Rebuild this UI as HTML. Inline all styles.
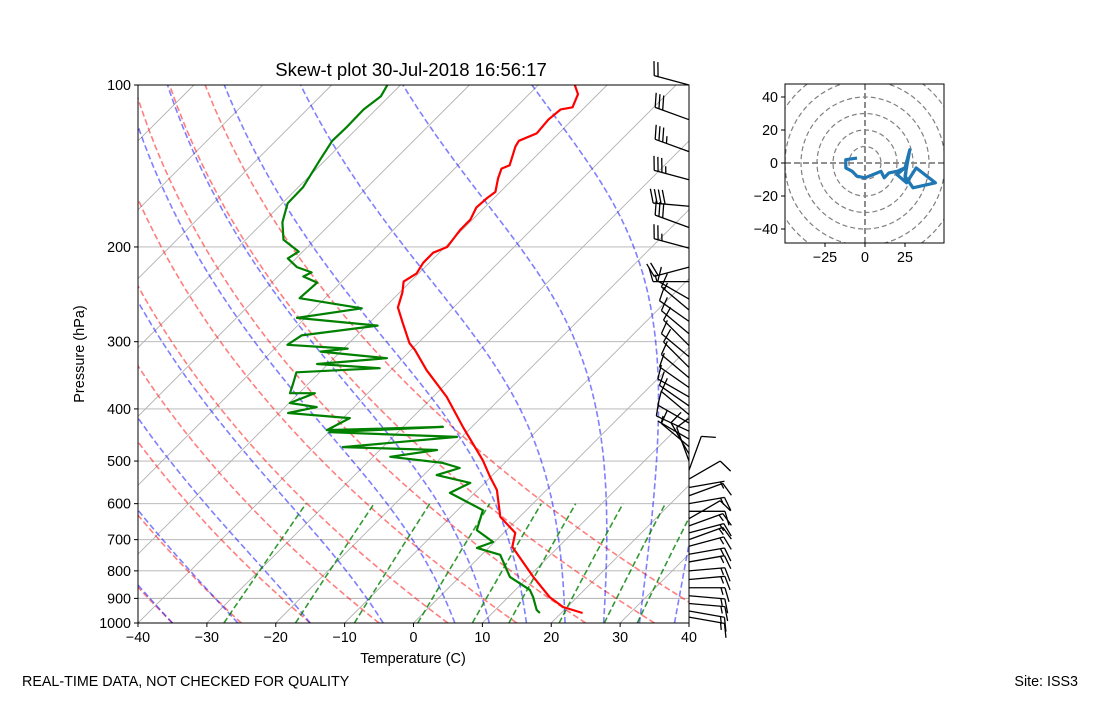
<!DOCTYPE html>
<html><head><meta charset="utf-8"><style>
body{margin:0;background:#fff;}
svg text{font-family:"Liberation Sans","DejaVu Sans",sans-serif;}
</style></head><body>
<svg id="fig" width="1100" height="700" xmlns="http://www.w3.org/2000/svg">
<defs>
<clipPath id="clipMain"><rect x="138" y="85" width="551" height="538"/></clipPath>
<clipPath id="clipHodo"><rect x="785" y="84" width="159" height="159"/></clipPath>
</defs>
<rect width="1100" height="700" fill="#fff"/>
<g id="main"></g>
<g id="barbs"></g>
<g id="hodo"></g>
<text x="411" y="76" font-size="18.5" text-anchor="middle">Skew-t plot 30-Jul-2018 16:56:17</text>
<text x="0" y="0" font-size="14.5" text-anchor="middle" transform="translate(84,354) rotate(-90)">Pressure (hPa)</text>
<text x="413" y="663" font-size="14.5" text-anchor="middle">Temperature (C)</text>
<text x="22" y="686" font-size="14.3">REAL-TIME DATA, NOT CHECKED FOR QUALITY</text>
<text x="1078" y="686" font-size="14.3" text-anchor="end">Site: ISS3</text>
</svg>
<script>
// ---- data ----
const tempP = [958,934,895,821,732,722,680,635,566,535,498,432,380,339,311,302,277,259,243,232,224,214,205,200,186,178,169,162,158,149,143,141,130,127,123,116,111,110,104,100];
const tempT = [23.1,19.4,16.0,10.7,4.1,3.3,1.7,-2.8,-7.2,-10.1,-13.6,-21.3,-28.0,-34.8,-39.4,-41.2,-45.1,-48.1,-49.6,-51.0,-50.3,-50.9,-50.9,-49.7,-50.3,-50.3,-51.2,-51.0,-50.7,-52.3,-53.2,-52.5,-54.4,-54.7,-53.2,-53.5,-53.2,-51.8,-52.9,-54.7];
const dewP = [958,946,895,868,821,747,725,707,672,617,573,549,531,515,504,491,477,471,451,442,432,438,416,407,397,390,374,374,358,342,336,330,322,313,309,304,292,280,271,260,249,233,227,223,218,210,204,194,180,166,155,138,127,120,111,105,100];
const dewT = [16.9,16.0,13.6,12.1,7.3,2.7,-1.7,-0.2,-4.3,-6.3,-13.6,-12.1,-18.1,-15.8,-19.0,-27.5,-21.7,-35.8,-20.7,-39.9,-24.2,-40.6,-39.0,-48.7,-45.4,-49.9,-47.7,-51.3,-52.3,-53.4,-41.9,-51.6,-42.3,-52.9,-49.4,-58.7,-58.0,-48.4,-61.2,-53.2,-63.7,-63.4,-66.3,-65.7,-68.6,-71.2,-70.6,-74.5,-77.2,-79.2,-79.3,-80.8,-81.8,-81.7,-81.8,-81.2,-81.9];
const barbP = [100,116,133,150,168,184,201,218,232,250,262,275,290,305,320,335,350,365,380,395,410,425,440,455,470,485,500,520,540,560,580,600,620,640,660,680,700,720,745,770,800,830,860,890,920,950,975];
const barbDir = [285,290,290,285,275,290,285,255,270,300,310,305,310,315,310,315,310,305,300,305,310,300,295,300,310,330,340,20,60,80,70,80,90,60,70,75,70,75,80,80,85,85,90,95,95,100,100];
const barbSpd = [20,30,35,35,40,30,25,20,15,10,15,10,10,10,10,10,10,10,10,10,10,10,10,5,10,10,10,10,10,5,10,15,10,10,15,15,15,15,15,15,15,15,15,15,15,15,15];
const hodoU = [-5,-12,-12,-8,-5,0,5,10,12,15,20,25,28,25,30,44,32,26,20,26,25];
const hodoV = [3,2,-3,-5,-8,-9,-7,-5,-9,-6,-5,-3,8,-8,-15,-12,-3,-12,-7,-2,-10];
const pTicks = [100,200,300,400,500,600,700,800,900,1000];
const tTicks = [-40,-30,-20,-10,0,10,20,30,40];
const dryTheta = [-95,-85,-75,-65,-55,-45,-35,-25,-15,-5,5,15,25,35,45];
const moistT0 = [-95,-85,-75,-65,-55,-45,-35,-25.5,-15,-4.4,6,11,16.4,22,27.6,32.8,37.9];
const mixW = [0.0004,0.001,0.002,0.004,0.007,0.01,0.016,0.024,0.032];
const hodoXTicks = [-25,0,25];
const hodoYTicks = [40,20,0,-20,-40];

// ---- axes ----
const NS='http://www.w3.org/2000/svg';
const X0=138,X1=689,Y0=85,Y1=623;
const pxPerC=(X1-X0)/80;
function yP(p){return Y1-(Y1-Y0)*Math.log10(1000/p);}
function xT(T,p){return X0+(T+40)*pxPerC+(Y1-yP(p));}
function mk(tag,attrs,parent){const e=document.createElementNS(NS,tag);for(const k in attrs)e.setAttribute(k,attrs[k]);parent.appendChild(e);return e;}
const main=document.getElementById('main');
const clipG=mk('g',{'clip-path':'url(#clipMain)'},main);

for(let T=-160;T<=40;T+=10){
  const l=mk('line',{x1:xT(T,1000),y1:Y1,x2:xT(T,100),y2:Y0,stroke:'#b0b0b0','stroke-width':0.9},clipG);
  
  
}
pTicks.forEach(p=>{
  const l=mk('line',{x1:X0,x2:X1,y1:yP(p),y2:yP(p),stroke:'#b0b0b0','stroke-width':0.9},clipG);
  
  
});
function pathFrom(pts){return pts.map((q,i)=>(i?'L':'M')+q[0].toFixed(1)+' '+q[1].toFixed(1)).join('');}
dryTheta.forEach(th=>{
  const pts=[];
  for(let p=1000;p>=100;p-=10){const T=(th+273.15)*Math.pow(p/1000,0.2857)-273.15;pts.push([xT(T,p),yP(p)]);}
  const e=mk('path',{d:pathFrom(pts),fill:'none',stroke:'rgba(255,0,0,0.5)','stroke-width':1.6,'stroke-dasharray':'6,3'},clipG);
  
  
});
function es(Tc){return 6.112*Math.exp(17.67*Tc/(Tc+243.5));}
moistT0.forEach(t0=>{
  const pts=[];let T=t0+273.15;const Rd=287.04,Cp=1005.7,Lv=2.501e6,eps=0.622;
  for(let p=1000;p>=100;p-=2){
    pts.push([xT(T-273.15,p),yP(p)]);
    const rs=eps*es(T-273.15)/(p-es(T-273.15));
    const dTdp=(Rd*T+Lv*rs)/(p*(Cp+Lv*Lv*rs*eps/(Rd*T*T)));
    T-=dTdp*2;
  }
  const e=mk('path',{d:pathFrom(pts),fill:'none',stroke:'rgba(0,0,255,0.5)','stroke-width':1.6,'stroke-dasharray':'6,3'},clipG);
  
  
});
mixW.forEach(w=>{
  const pts=[];
  for(let p=1000;p>=600;p-=20){const e=p*w/(0.622+w);const a=Math.log(e/6.112);const Td=243.5*a/(17.67-a);pts.push([xT(Td,p),yP(p)]);}
  const e=mk('path',{d:pathFrom(pts),fill:'none',stroke:'rgba(0,128,0,0.8)','stroke-width':1.6,'stroke-dasharray':'6,3'},clipG);
  
  
});
const tl=mk('path',{d:pathFrom(tempP.map((p,i)=>[xT(tempT[i],p),yP(p)])),fill:'none',stroke:'#ff0000','stroke-width':2.2,'stroke-linejoin':'round'},clipG);


const dl=mk('path',{d:pathFrom(dewP.map((p,i)=>[xT(dewT[i],p),yP(p)])),fill:'none',stroke:'#008000','stroke-width':2.2,'stroke-linejoin':'round'},clipG);


const fr=mk('rect',{x:X0,y:Y0,width:X1-X0,height:Y1-Y0,fill:'none',stroke:'#000','stroke-width':1},main);


pTicks.forEach(p=>{
  mk('line',{x1:X0-4,x2:X0,y1:yP(p),y2:yP(p),stroke:'#000'},main);
  const t=mk('text',{x:X0-7,y:yP(p)+5,'font-size':14.3,'text-anchor':'end'},main);t.textContent=p;
  
  
});
tTicks.forEach(T=>{
  const x=X0+(T+40)*pxPerC;
  mk('line',{x1:x,x2:x,y1:Y1,y2:Y1+4,stroke:'#000'},main);
  const t=mk('text',{x:x,y:Y1+19,'font-size':14.3,'text-anchor':'middle'},main);t.textContent=(T<0?'\u2212'+(-T):T);
  
  
});
const bg=document.getElementById('barbs');
barbP.forEach((p,i)=>{
  const d=barbDir[i]*Math.PI/180, L=36;
  const bx=X1, by=yP(p);
  const sx=Math.sin(d), sy=-Math.cos(d);
  const nx=-sy, ny=sx;
  const g=mk('g',{stroke:'#000','stroke-width':1.3,fill:'#000'},bg);
  
  
  mk('line',{x1:bx,y1:by,x2:bx+sx*L,y2:by+sy*L},g);
  let s=barbSpd[i], pos=L;
  while(s>=50){const ax=bx+sx*pos,ay=by+sy*pos,cx=bx+sx*(pos-5),cy=by+sy*(pos-5);
    mk('polygon',{points:`${ax},${ay} ${ax+nx*14},${ay+ny*14} ${cx},${cy}`},g);pos-=7;s-=50;}
  if(barbSpd[i]<10 && s>=5){pos-=4;}
  while(s>=10){const ax=bx+sx*pos,ay=by+sy*pos;mk('line',{x1:ax,y1:ay,x2:ax+nx*14+sx*4,y2:ay+ny*14+sy*4},g);pos-=4;s-=10;}
  if(s>=5){const ax=bx+sx*pos,ay=by+sy*pos;mk('line',{x1:ax,y1:ay,x2:ax+nx*7+sx*2,y2:ay+ny*7+sy*2},g);}
});
const hg=document.getElementById('hodo');
const HX0=785,HX1=944,HY0=84,HY1=243,HCX=865,HCY=163,HSX=1.6,HSY=1.65;
const hc=mk('g',{'clip-path':'url(#clipHodo)'},hg);
for(let r=10;r<=70;r+=10){
  const c=mk('ellipse',{cx:HCX,cy:HCY,rx:r*HSX,ry:r*HSY,fill:'none',stroke:'#808080','stroke-width':1.2,'stroke-dasharray':'5,3'},hc);
  
  
}
mk('line',{x1:HX0,x2:HX1,y1:HCY,y2:HCY,stroke:'#808080','stroke-width':1.8,'stroke-dasharray':'6,3'},hc);
mk('line',{x1:HCX,x2:HCX,y1:HY0,y2:HY1,stroke:'#808080','stroke-width':1.8,'stroke-dasharray':'6,3'},hc);
const hl=mk('path',{d:pathFrom(hodoU.map((u,i)=>[HCX+u*HSX,HCY-hodoV[i]*HSY])),fill:'none',stroke:'#1f77b4','stroke-width':3.2,'stroke-linejoin':'round'},hc);


const hf=mk('rect',{x:HX0,y:HY0,width:HX1-HX0,height:HY1-HY0,fill:'none',stroke:'#000','stroke-width':1},hg);


hodoXTicks.forEach(v=>{const x=HCX+v*HSX;mk('line',{x1:x,x2:x,y1:HY1,y2:HY1+4,stroke:'#000'},hg);
  const t=mk('text',{x:x,y:HY1+19,'font-size':14.3,'text-anchor':'middle'},hg);t.textContent=v<0?'\u2212'+(-v):v;
  
  });
hodoYTicks.forEach(v=>{const y=HCY-v*HSY;mk('line',{x1:HX0-4,x2:HX0,y1:y,y2:y,stroke:'#000'},hg);
  const t=mk('text',{x:HX0-7,y:y+5,'font-size':14.3,'text-anchor':'end'},hg);t.textContent=v<0?'\u2212'+(-v):v;
  
  });
</script>
</body></html>
